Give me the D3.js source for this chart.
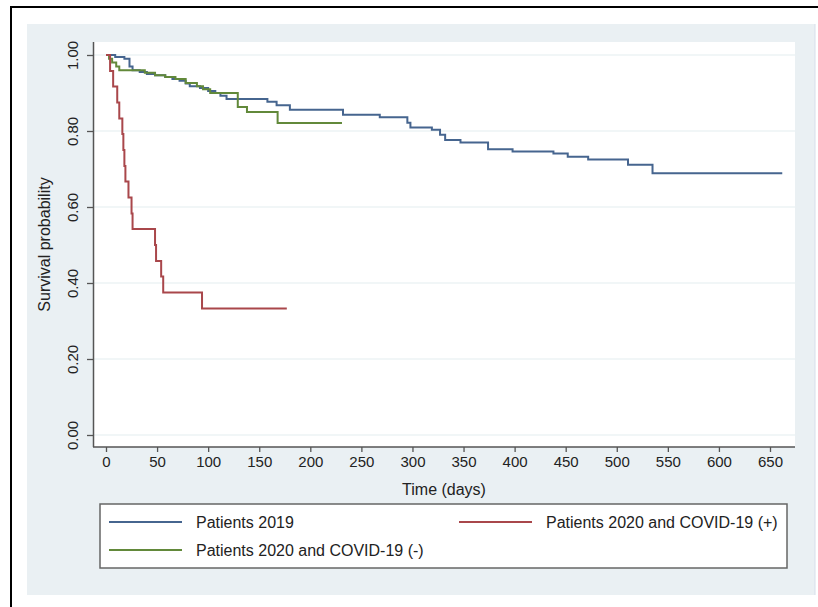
<!DOCTYPE html>
<html>
<head>
<meta charset="utf-8">
<script src="https://cdn.jsdelivr.net/npm/d3@7"></script>
<style>
  body { margin: 0; background: #fff; }
  text { font-family: "Liberation Sans", Arial, sans-serif; fill: #222; }
</style>
</head>
<body>
<div id="chart"></div>
<script>
// Kaplan-Meier survival curves
var blueTime = [0, 9, 18, 23, 26, 33, 40, 48, 58, 65, 72, 78, 82, 92, 100, 107, 112, 118, 158, 167, 180, 232, 268, 295, 298, 319, 327, 332, 347, 374, 398, 438, 452, 472, 511, 535, 662];
var blueSurv = [1, 0.995, 0.99, 0.97, 0.96, 0.955, 0.95, 0.947, 0.942, 0.937, 0.932, 0.925, 0.918, 0.913, 0.905, 0.9, 0.893, 0.884, 0.877, 0.868, 0.856, 0.843, 0.836, 0.822, 0.809, 0.803, 0.79, 0.776, 0.77, 0.752, 0.746, 0.741, 0.732, 0.725, 0.711, 0.689, 0.689];

var redTime = [0, 4, 7, 11, 13, 16, 17, 18, 19, 22, 25, 26, 48, 49, 54, 56, 94, 177];
var redSurv = [1, 0.958, 0.917, 0.875, 0.833, 0.792, 0.75, 0.708, 0.667, 0.625, 0.583, 0.542, 0.5, 0.458, 0.417, 0.375, 0.333, 0.333];

var greenTime = [0, 3, 6, 10, 13, 38, 48, 58, 68, 78, 89, 95, 102, 129, 138, 168, 231];
var greenSurv = [1, 0.99, 0.98, 0.97, 0.96, 0.953, 0.947, 0.942, 0.937, 0.926, 0.918, 0.91, 0.9, 0.863, 0.85, 0.821, 0.821];

var seriesNames = ['Patients 2019', 'Patients 2020 and COVID-19 (+)', 'Patients 2020 and COVID-19 (-)'];
var seriesColors = ['#46658f', '#a9474b', '#62893a'];

var xTicks = [0, 50, 100, 150, 200, 250, 300, 350, 400, 450, 500, 550, 600, 650];
var yTicks = [0, 0.2, 0.4, 0.6, 0.8, 1];

var width = 818, height = 607;

var svg = d3.select('#chart').append('svg')
  .attr('width', width)
  .attr('height', height);

// outer frame and grey graph region
svg.append('rect')
  .attr('x', 11).attr('y', 7)
  .attr('width', 830).attr('height', 620)
  .attr('fill', '#fff').attr('stroke', '#000').attr('stroke-width', 2);

svg.append('rect')
  .attr('x', 27).attr('y', 24)
  .attr('width', 788).attr('height', 571)
  .attr('fill', '#eaf0f3');

svg.append('line')
  .attr('x1', 815).attr('x2', 815).attr('y1', 24).attr('y2', 595)
  .attr('stroke', '#d8dfea').attr('stroke-width', 1);

// plot region
var plot = { left: 93, right: 795, top: 42, bottom: 447 };

svg.append('rect')
  .attr('x', plot.left).attr('y', plot.top)
  .attr('width', plot.right - plot.left).attr('height', plot.bottom - plot.top)
  .attr('fill', '#fff');

var x = d3.scaleLinear().domain([0, 650]).range([106, 770]);
var y = d3.scaleLinear().domain([0, 1]).range([435, 55]);

// grid lines
svg.append('g').selectAll('line')
  .data(yTicks)
  .enter().append('line')
  .attr('x1', plot.left).attr('x2', plot.right)
  .attr('y1', function(d) { return y(d); })
  .attr('y2', function(d) { return y(d); })
  .attr('stroke', '#e4eef0').attr('stroke-width', 1.2);

// axes
var xAxis = svg.append('g')
  .attr('transform', 'translate(0,' + plot.bottom + ')')
  .call(d3.axisBottom(x).tickValues(xTicks).tickSize(5).tickPadding(4).tickFormat(d3.format('d')));

var yAxis = svg.append('g')
  .attr('transform', 'translate(' + plot.left + ',0)')
  .call(d3.axisLeft(y).tickValues(yTicks).tickSize(6).tickFormat(d3.format('.2f')));

[xAxis, yAxis].forEach(function(a) {
  a.select('.domain').remove();
  a.selectAll('line').attr('stroke', '#555').attr('stroke-width', 1.3);
});

xAxis.selectAll('text')
  .attr('font-size', 15)
  .attr('font-family', '"Liberation Sans", Arial, sans-serif')
  .attr('fill', '#222');

yAxis.selectAll('text')
  .attr('font-size', 15)
  .attr('font-family', '"Liberation Sans", Arial, sans-serif')
  .attr('fill', '#222')
  .attr('text-anchor', 'middle')
  .attr('dy', null)
  .attr('x', null)
  .attr('transform', 'translate(-15,0) rotate(-90)');

svg.append('line')
  .attr('x1', plot.left).attr('x2', plot.right)
  .attr('y1', plot.bottom).attr('y2', plot.bottom)
  .attr('stroke', '#555').attr('stroke-width', 1.5);

svg.append('line')
  .attr('x1', plot.left + 0.5).attr('x2', plot.left + 0.5)
  .attr('y1', plot.top).attr('y2', plot.bottom)
  .attr('stroke', '#555').attr('stroke-width', 1.5);

// axis titles
svg.append('text')
  .attr('x', (x(0) + x(650)) / 2 + 6).attr('y', 495)
  .attr('text-anchor', 'middle')
  .attr('font-size', 16)
  .text('Time (days)');

svg.append('text')
  .attr('transform', 'translate(50,' + ((plot.top + plot.bottom) / 2) + ') rotate(-90)')
  .attr('text-anchor', 'middle')
  .attr('font-size', 16)
  .text('Survival probability');

// curves
var series = [
  { time: blueTime, surv: blueSurv },
  { time: redTime, surv: redSurv },
  { time: greenTime, surv: greenSurv }
];

var line = d3.line()
  .x(function(d) { return x(d[0]); })
  .y(function(d) { return y(d[1]); })
  .curve(d3.curveStepAfter);

// draw order: blue, green, red on top
[0, 2, 1].forEach(function(i) {
  var s = series[i];
  svg.append('path')
    .datum(d3.zip(s.time, s.surv))
    .attr('d', line)
    .attr('fill', 'none')
    .attr('stroke', seriesColors[i])
    .attr('stroke-width', 2);
});

// legend
svg.append('rect')
  .attr('x', 100).attr('y', 504)
  .attr('width', 687).attr('height', 64)
  .attr('fill', '#fff').attr('stroke', '#666').attr('stroke-width', 1.5);

var legendPos = [
  { x: 109, y: 522 },
  { x: 459, y: 522 },
  { x: 109, y: 550 }
];

var legend = svg.append('g').selectAll('g')
  .data(seriesNames)
  .enter().append('g')
  .attr('transform', function(d, i) { return 'translate(' + legendPos[i].x + ',' + legendPos[i].y + ')'; });

legend.append('line')
  .attr('x1', 0).attr('x2', 73)
  .attr('stroke', function(d, i) { return seriesColors[i]; })
  .attr('stroke-width', 2);

legend.append('text')
  .attr('x', function(d, i) { return i == 1 ? 87 : 87; })
  .attr('y', 5.5)
  .attr('font-size', 16)
  .text(function(d) { return d; });
</script>
</body>
</html>
